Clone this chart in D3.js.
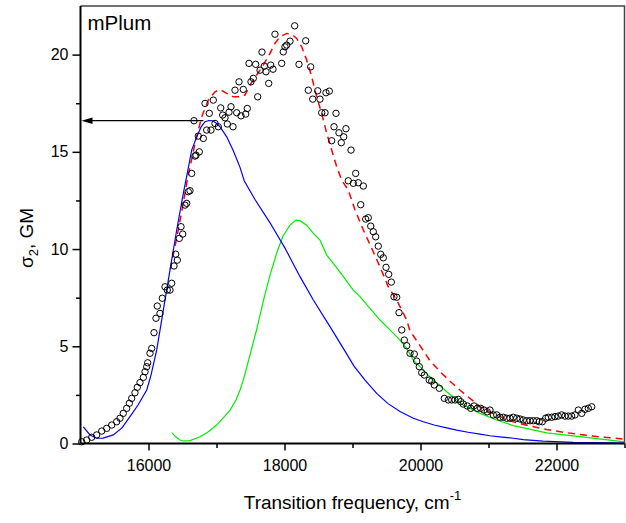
<!DOCTYPE html>
<html>
<head>
<meta charset="utf-8">
<script src="https://cdn.jsdelivr.net/npm/d3@7"></script>
<style>
  body { margin: 0; background: #fff; }
  svg text { font-family: "Liberation Sans", Arial, sans-serif; }
</style>
</head>
<body>
<svg id="chart" width="626" height="523"></svg>
<script>
// measured 2PA cross section (open circles)
const measFreq = [15018,15091,15165,15238,15312,15385,15459,15532,15581,15629,15679,15718,15753,15801,15835,15875,15924,15949,15974,15988,
  16022,16047,16081,16110,16129,16169,16203,16243,16276,16316,16341,16375,16400,16424,16453,16478,16503,16537,16562,16585,
  16610,16635,16669,16684,16699,16732,16747,16806,16831,16856,16894,16919,16953,16978,17026,17062,17091,17125,17159,17184,
  17213,17243,17272,17297,17331,17360,17394,17429,17453,17478,17507,17541,17576,17606,17640,17669,17703,17728,17768,17797,
  17831,17860,17959,17982,18007,18032,18081,18150,18213,18312,18350,18385,18415,18488,18522,18547,18596,18610,18659,18694,
  18728,18757,18801,18835,18871,18904,18938,18978,19012,19047,19085,19121,19159,19194,19232,19268,19306,19341,19379,19415,
  19453,19493,19532,19571,19610,19650,19684,19724,19762,19797,19846,19909,19944,19982,20018,20056,20129,20165,20203,20277,
  20350,20409,20459,20507,20556,20591,20629,20688,20738,20787,20835,20885,20934,20982,21022,21071,21121,21169,21218,21268,
  21316,21365,21415,21463,21512,21562,21610,21659,21709,21747,21791,21841,21879,21929,21978,22026,22076,22125,22173,22223,
  22272,22321,22371,22419,22468,22518];
const measSigma = [0.09,0.18,0.32,0.44,0.64,0.78,0.95,1.12,1.30,1.55,1.81,2.07,2.32,2.61,2.89,3.13,3.40,3.69,3.95,4.15,
  4.64,4.89,5.70,6.44,7.07,6.69,7.47,8.06,7.89,7.89,8.24,9.13,9.74,9.43,10.55,11.15,10.77,12.26,12.35,12.95,
  13.00,13.89,16.60,14.78,14.83,15.81,15.00,15.69,17.49,16.12,16.98,16.12,17.66,16.46,16.29,17.26,16.89,16.75,16.43,17.04,
  17.32,16.29,18.17,17.01,18.60,16.85,18.21,16.94,17.23,19.55,18.60,18.78,19.50,17.83,19.20,20.13,19.41,19.12,18.52,19.46,
  19.25,21.05,19.55,20.14,20.40,20.49,20.69,21.48,19.50,20.71,18.17,19.37,17.71,18.14,17.71,17.01,17.01,18.04,18.12,15.57,
  16.29,16.98,15.98,15.47,15.77,16.19,13.51,15.09,13.38,13.89,13.41,12.28,13.24,11.54,11.61,11.18,10.89,10.63,10.15,9.73,
  9.55,9.06,8.70,8.30,7.55,7.52,6.73,5.84,5.32,5.03,4.64,4.60,4.24,3.95,3.64,3.52,3.26,3.21,3.01,2.84,
  2.32,2.24,2.24,2.24,2.27,2.15,2.03,1.93,1.81,1.93,1.81,1.81,1.72,1.63,1.72,1.47,1.47,1.35,1.35,1.30,
  1.30,1.35,1.30,1.26,1.21,1.17,1.17,1.17,1.17,1.12,1.12,1.30,1.35,1.35,1.38,1.41,1.47,1.41,1.41,1.41,
  1.47,1.72,1.55,1.76,1.81,1.89];

// first component (blue)
const band1Freq = [15041,15140,15238,15331,15482,15610,15728,15846,15974,16037,16121,16218,16316,16415,16512,16574,16635,16709,16772,16831,
  16890,16944,16993,17051,17150,17247,17346,17409,17566,17787,18007,18228,18424,18669,18865,19022,19184,19356,19522,19699,
  19894,20041,20200,20385,20532,20700,20875,21022,21200,21365,21512,21800,22247,23000];
const band1Sigma = [0.86,0.44,0.27,0.28,0.44,0.80,1.38,1.98,2.75,3.52,4.81,6.86,8.92,10.98,12.86,13.96,15.09,15.77,16.27,16.55,
  16.61,16.60,16.48,16.29,15.77,15.05,14.20,13.50,12.55,11.35,10.05,8.58,7.38,6.01,4.89,3.98,3.26,2.58,2.05,1.65,
  1.30,1.12,0.95,0.80,0.69,0.58,0.48,0.40,0.33,0.27,0.20,0.12,0.06,0.02];

// second component (green)
const band2Freq = [16341,16404,16463,16512,16610,16757,16875,17003,17096,17199,17287,17346,17394,17493,17596,17699,17787,17890,17978,18081,
  18169,18228,18326,18424,18522,18620,18718,18865,19012,19110,19257,19404,19551,19699,19797,19894,20140,20385,20629,20875,
  21121,21365,21856,22346,23000];
const band2Sigma = [0.56,0.33,0.18,0.13,0.15,0.35,0.59,0.95,1.31,1.72,2.24,2.75,3.26,4.55,5.94,7.48,8.66,9.85,10.67,11.23,
  11.49,11.46,11.23,10.81,10.46,9.69,9.26,8.58,7.89,7.55,6.95,6.35,5.84,5.32,4.89,4.29,3.43,2.66,1.98,1.55,
  1.21,0.92,0.55,0.35,0.08];

// sum fit (red dashed)
const fitFreq = [16320,16415,16493,16571,16684,16782,16879,16978,17051,17150,17247,17346,17419,17493,17591,17688,17787,17860,17934,18032,
  18106,18179,18253,18326,18400,18473,18547,18621,18694,18768,18841,18938,19037,19159,19282,19404,19526,19650,19797,19844,
  19990,20140,20287,20434,20629,20875,21121,21365,21610,21856,22100,22346,22590,22835,23000];
const fitSigma = [8.95,10.57,12.01,13.55,15.43,16.80,17.66,18.09,18.21,18.01,17.83,17.83,17.92,18.43,18.95,19.46,20.06,20.58,20.92,21.09,
  21.05,20.83,20.40,19.72,18.86,17.83,16.98,15.95,15.09,14.23,13.55,13.03,12.01,10.98,10.04,9.09,8.06,7.38,6.35,5.80,
  5.05,4.25,3.70,3.20,2.60,1.90,1.45,1.12,0.90,0.72,0.58,0.46,0.36,0.28,0.22];

const xMajor = [16000, 18000, 20000, 22000];
const xMinor = [17000, 19000, 21000, 23000];
const yMajor = [0, 5, 10, 15, 20];
const yMinor = [2.5, 7.5, 12.5, 17.5];

const arrowLevel = 16.6;
const arrowFrom = 16806;

const svg = d3.select("#chart");
const margin = {top: 6, right: 1.5, bottom: 79.5, left: 80.5};
const W = +svg.attr("width") - margin.left - margin.right;
const H = +svg.attr("height") - margin.top - margin.bottom;
const g = svg.append("g").attr("transform", `translate(${margin.left},${margin.top})`);

const x = d3.scaleLinear().domain([15000, 23000]).range([0, W]);
const y = d3.scaleLinear().domain([0, 22.5]).range([H, 0]);

// frame (top / right)
g.append("path")
  .attr("d", `M0,0 H${W} V${H}`)
  .attr("fill", "none").attr("stroke", "#444").attr("stroke-width", 1.5);

const line = (xs, ys) => d3.line().x((d, i) => x(xs[i])).y((d, i) => y(ys[i]))(xs);

g.append("path").attr("d", line(fitFreq, fitSigma))
  .attr("fill", "none").attr("stroke", "#ff0000").attr("stroke-width", 1.5)
  .attr("stroke-dasharray", "7,5");
g.append("path").attr("d", line(band2Freq, band2Sigma))
  .attr("fill", "none").attr("stroke", "#00ee00").attr("stroke-width", 1.2);
g.append("path").attr("d", line(band1Freq, band1Sigma))
  .attr("fill", "none").attr("stroke", "#0000ff").attr("stroke-width", 1.2);

g.append("g").selectAll("circle").data(measFreq).join("circle")
  .attr("cx", (d) => x(d))
  .attr("cy", (d, i) => y(measSigma[i]))
  .attr("r", 3.2)
  .attr("fill", "none").attr("stroke", "#000").attr("stroke-width", 1);

// arrow to axis
const ay = y(arrowLevel), ax = x(15000) + 1;
g.append("line")
  .attr("x1", x(arrowFrom)).attr("x2", ax + 6)
  .attr("y1", ay).attr("y2", ay)
  .attr("stroke", "#000").attr("stroke-width", 1.2);
g.append("path")
  .attr("d", `M${ax},${ay} L${ax + 11},${ay - 3.2} L${ax + 11},${ay + 3.2} Z`)
  .attr("fill", "#000");

// axes
const xAxis = g.append("g").attr("transform", `translate(0,${H})`)
  .call(d3.axisBottom(x).tickValues(xMajor).tickSize(7).tickPadding(9).tickFormat(d3.format("d")));
g.append("g").attr("transform", `translate(0,${H})`)
  .call(d3.axisBottom(x).tickValues(xMinor).tickSize(4.5).tickFormat(""))
  .select(".domain").remove();
const yAxis = g.append("g")
  .call(d3.axisLeft(y).tickValues(yMajor).tickSize(8).tickPadding(4));
g.append("g")
  .call(d3.axisLeft(y).tickValues(yMinor).tickSize(4.5).tickFormat(""))
  .select(".domain").remove();

svg.selectAll(".tick line").attr("stroke", "#000").attr("stroke-width", 1.5);
xAxis.select(".domain").attr("stroke-width", 2).attr("d", `M0,0H${W}`);
yAxis.select(".domain").attr("stroke-width", 2).attr("d", `M0,0V${H}`);
svg.selectAll(".tick text").attr("font-size", 16).attr("fill", "#000")
  .attr("font-family", "'Liberation Sans', Arial, sans-serif");

// labels
g.append("text").attr("x", 7).attr("y", 24)
  .attr("font-size", 20.5).text("mPlum");

const xt = svg.append("text")
  .attr("x", margin.left + W / 2).attr("y", 509)
  .attr("text-anchor", "middle").attr("font-size", 19);
xt.append("tspan").text("Transition frequency, cm");
xt.append("tspan").attr("font-size", 13).attr("dy", -9).text("-1");

const yt = svg.append("text")
  .attr("transform", "translate(33,238) rotate(-90)")
  .attr("text-anchor", "middle").attr("font-size", 19);
yt.append("tspan").text("σ");
yt.append("tspan").attr("font-size", 13).attr("dy", 5).text("2");
yt.append("tspan").attr("dy", -5).text(", GM");
</script>
</body>
</html>
